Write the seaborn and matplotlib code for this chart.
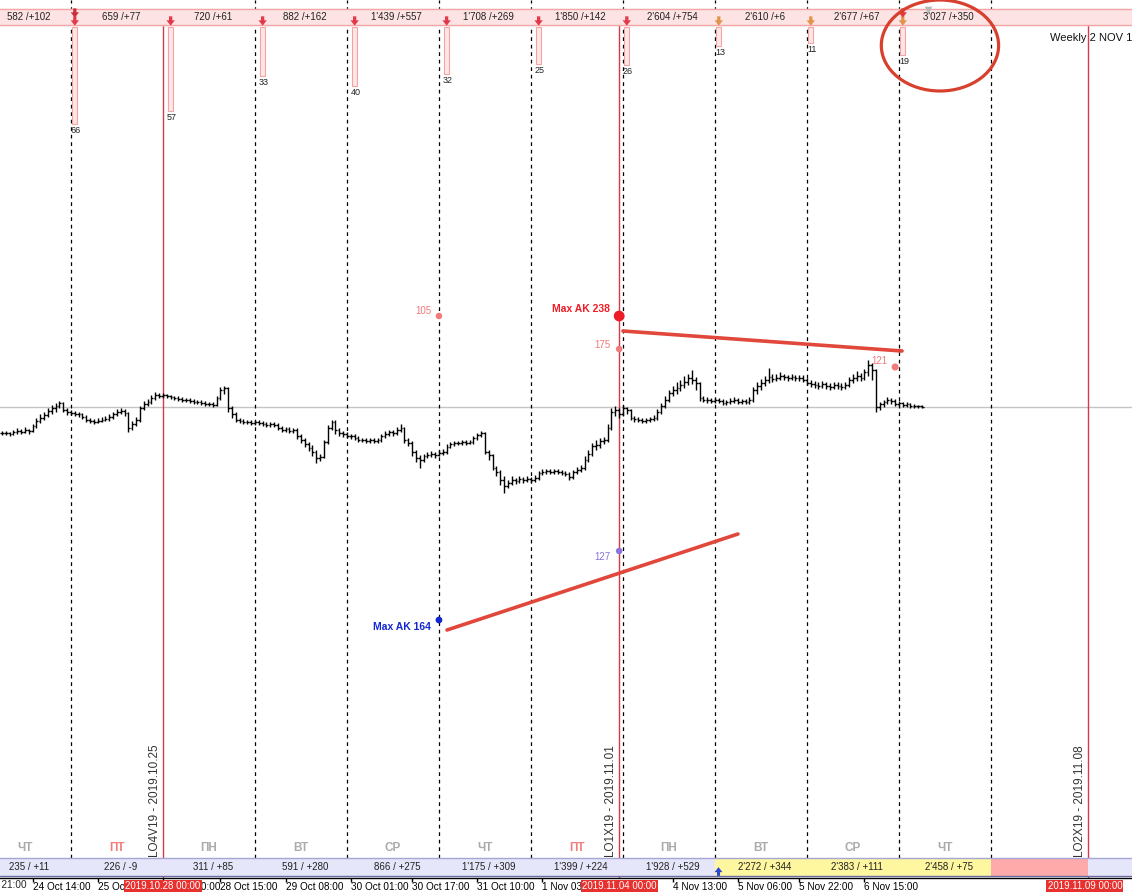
import numpy as np
import pandas as pd
import seaborn as sns
import matplotlib
matplotlib.use('Agg')
import matplotlib.pyplot as plt
from matplotlib.patches import Ellipse
from matplotlib.transforms import ScaledTranslation

# hourly bars; x = trading hours since Fri 25 Oct 00:00 (weekends skipped)
bar_start = -18
close = [67, 67, 66, 68, 69, 68, 70, 69,
         74, 79, 82, 85, 89, 92, 94, 97, 90, 88,
         87, 86, 86, 83, 80, 79, 78, 79, 80, 81,
         83, 86, 88, 89, 87, 72, 76, 80, 92, 96,
         98, 102, 105, 104, 105, 104, 103, 102, 101, 100,
         100, 99, 98, 98, 97, 96, 96, 95, 102, 110,
         112, 92, 86, 80, 79, 78, 78, 77, 78, 77,
         76, 75, 76, 75, 72, 70, 71, 69, 70, 64,
         60, 56, 52, 48, 42, 43, 58, 72, 78, 70,
         67, 66, 64, 64, 62, 60, 60, 59, 60, 59,
         60, 64, 66, 68, 67, 70, 72, 60, 57, 48,
         42, 40, 44, 45, 46, 45, 47, 48, 53, 56,
         57, 57, 58, 57, 58, 62, 65, 67, 48, 45,
         32, 28, 20, 14, 17, 20, 19, 21, 20, 21,
         20, 22, 27, 28, 29, 28, 29, 28, 27, 26,
         23, 28, 30, 32, 40, 46, 54, 55, 59, 60,
         72, 88, 90, 86, 92, 90, 82, 81, 80, 79,
         80, 81, 82, 88, 94, 100, 107, 110, 112, 115,
         118, 122, 120, 117, 102, 100, 100, 99, 100, 99,
         97, 98, 99, 100, 98, 99, 98, 100, 110, 114,
         117, 120, 123, 121, 122, 124, 123, 122, 123, 122,
         122, 120, 117, 116, 115, 114, 116, 114, 113, 115,
         114, 113, 115, 120, 122, 124, 122, 128, 135, 130,
         93, 96, 98, 100, 99, 96, 97, 95, 96, 94,
         94, 94, 93]
high = [69, 69, 68, 70, 72, 71, 73, 71,
        76, 82, 86, 88, 92, 95, 97, 99, 98, 92,
        90, 89, 88, 87, 85, 82, 81, 82, 83, 84,
        86, 88, 91, 92, 91, 88, 79, 83, 94, 99,
        101, 105, 108, 107, 107, 106, 105, 104, 104, 103,
        102, 102, 101, 100, 100, 99, 98, 98, 104, 113,
        114, 113, 94, 88, 82, 81, 80, 80, 80, 80,
        79, 78, 78, 78, 77, 74, 73, 73, 72, 72,
        66, 62, 58, 55, 50, 46, 60, 75, 80, 80,
        72, 69, 68, 66, 66, 64, 62, 62, 62, 62,
        62, 66, 69, 70, 70, 73, 76, 73, 62, 59,
        50, 45, 46, 48, 49, 48, 50, 51, 56, 58,
        59, 59, 60, 60, 60, 64, 67, 69, 68, 50,
        46, 34, 30, 24, 20, 24, 22, 24, 23, 24,
        23, 25, 29, 31, 31, 31, 31, 31, 30, 29,
        28, 30, 33, 35, 44, 50, 57, 60, 62, 63,
        76, 92, 94, 92, 95, 93, 91, 84, 83, 82,
        82, 83, 85, 91, 97, 104, 110, 114, 118, 120,
        124, 126, 130, 123, 118, 104, 103, 102, 102, 102,
        101, 100, 102, 103, 102, 101, 101, 103, 113, 118,
        121, 124, 132, 126, 126, 128, 126, 125, 126, 125,
        125, 125, 122, 120, 119, 118, 119, 118, 117, 118,
        118, 117, 118, 123, 126, 129, 127, 131, 140, 137,
        131, 98, 100, 103, 102, 101, 99, 98, 98, 97,
        96, 95, 95]
low = [65, 65, 64, 65, 66, 66, 67, 66,
       68, 72, 77, 80, 83, 86, 88, 92, 88, 85,
       85, 84, 83, 81, 78, 77, 76, 77, 78, 79,
       79, 81, 84, 86, 84, 68, 70, 74, 78, 90,
       94, 96, 100, 102, 102, 102, 101, 100, 99, 98,
       98, 97, 96, 96, 95, 94, 94, 93, 94, 100,
       106, 88, 82, 78, 77, 76, 76, 75, 75, 75,
       74, 73, 73, 73, 70, 68, 68, 67, 67, 61,
       57, 53, 49, 44, 37, 39, 42, 56, 70, 66,
       64, 63, 62, 61, 60, 58, 58, 57, 57, 57,
       57, 58, 62, 64, 64, 65, 68, 57, 54, 44,
       38, 32, 38, 42, 43, 42, 44, 45, 46, 52,
       54, 55, 55, 55, 56, 56, 60, 63, 46, 40,
       30, 24, 15, 7, 12, 15, 16, 17, 17, 18,
       17, 18, 20, 25, 26, 26, 26, 26, 25, 24,
       20, 21, 26, 28, 30, 38, 44, 50, 52, 56,
       58, 70, 84, 82, 84, 86, 80, 78, 78, 77,
       77, 78, 79, 80, 86, 92, 98, 104, 106, 109,
       112, 115, 116, 110, 99, 98, 97, 97, 97, 97,
       95, 95, 96, 97, 96, 96, 96, 96, 98, 106,
       110, 114, 117, 118, 119, 120, 120, 119, 120, 119,
       119, 118, 115, 113, 112, 111, 112, 111, 110, 111,
       111, 110, 111, 113, 117, 119, 119, 120, 124, 120,
       88, 90, 93, 96, 96, 94, 94, 93, 93, 92,
       92, 92, 92]

# daily columns
day_start = [-24, 0, 24, 48, 72, 96, 120, 144, 168, 192, 216]
weekdays = ['ЧТ', 'ПТ', 'ПН', 'ВТ', 'СР', 'ЧТ', 'ПТ', 'ПН', 'ВТ', 'СР', 'ЧТ']
top_stats = ['582 /+102', '659 /+77', '720 /+61', '882 /+162', "1'439 /+557", "1'708 /+269",
             "1'850 /+142", "2'604 /+754", "2'610 /+6", "2'677 /+67", "3'027 /+350"]
bottom_stats = ['235 / +11', '226 / -9', '311 / +85', '591 / +280', '866 / +275', "1'175 / +309",
                "1'399 / +224", "1'928 / +529", "2'272 / +344", "2'383 / +111", "2'458 / +75"]
day_lines = [0, 48, 72, 96, 120, 144, 168, 192, 216, 240]

# counters hanging from the top strip
count_hours = [1, 26, 50, 74, 98, 122, 145, 169, 193, 217]
counts = [66, 57, 33, 40, 32, 25, 26, 13, 11, 19]

# weekly expiries
week_hours = [24, 143, 265.3]
week_labels = ['LO4V19 - 2019.10.25', 'LO1X19 - 2019.11.01', 'LO2X19 - 2019.11.08']
week_dates = ['2019.10.28 00:00', '2019.11.04 00:00', '2019.11.09 00:00']

tick_hours = [-27, -10, 7, 24, 39, 56, 73, 89, 106, 123, 157, 174, 190, 207]
tick_labels = ['23 Oct 21:00', '24 Oct 14:00', '25 Oct 07:00', '28 Oct 00:00', '28 Oct 15:00',
               '29 Oct 08:00', '30 Oct 01:00', '30 Oct 17:00', '31 Oct 10:00', '1 Nov 03:00',
               '4 Nov 13:00', '5 Nov 06:00', '5 Nov 22:00', '6 Nov 15:00']

# AK levels
ak_hours = [96, 143, 143, 215, 143, 96]
ak_prices = [184, 184, 151, 133, -51, -120]
ak_labels = ['105', 'Max AK 238', '175', '121', '127', 'Max AK 164']
resist_hours = [144, 216.8]
resist_prices = [169, 149]
support_hours = [98.1, 174]
support_prices = [-130, -34]

sns.set_theme(style='white')
plt.rcParams['font.family'] = ['Liberation Sans', 'DejaVu Sans']

fig = plt.figure(figsize=(11.32, 8.96), dpi=100)
ax = fig.add_axes([0, 18 / 896, 1, 878 / 896])


def row(px):
    # price coordinate of a screen row of the panel
    return 500 - px


hours = np.arange(bar_start, bar_start + len(close))
opens = [close[0]] + close[:-1]
ax.vlines(hours, low, high, color='black', lw=1, zorder=3)
ax.hlines(opens, hours - 0.45, hours, color='black', lw=1, zorder=3)
ax.hlines(close, hours, hours + 0.45, color='black', lw=1, zorder=3)
ax.axhline(close[-1], color='#c4c4c4', lw=1, zorder=1)

for d in day_lines:
    ax.vlines(d, row(858), row(0), color='black', lw=0.9, linestyles=(0, (3, 3)), zorder=1)
for w in week_hours:
    ax.vlines(w, row(878), row(9), color='#d8384a', lw=1, zorder=2)

# top strip
ax.axhspan(row(25), row(9), color='#fde3e3', zorder=2)
ax.axhline(row(9), color='#f2a6a6', lw=1, zorder=2)
ax.axhline(row(25), color='#f2a6a6', lw=1, zorder=2)
for d, s in zip(day_start, top_stats):
    ax.text(d + 13, row(17), s, ha='center', va='center', fontsize=7, color='#222222', zorder=5)

arrow = [(-0.35, 1), (0.35, 1), (0.35, 0.15), (0.9, 0.15), (0, -1), (-0.9, 0.15), (-0.35, 0.15), (-0.35, 1)]
arrow_colors = ['#e23a4a'] * 7 + ['#e0954a'] * 3
ax.scatter(count_hours, [row(21)] * len(count_hours), marker=arrow, s=45, c=arrow_colors,
           linewidths=0, zorder=6)
ax.scatter([count_hours[0], count_hours[-1]], [row(13), row(13)], marker=arrow, s=45,
           c=['#c8303c', '#e23a3a'], linewidths=0, zorder=6)
ax.scatter([223.6], [row(10)], marker='v', s=30, c='#b8b8b8', linewidths=0, zorder=6)

axc = fig.add_axes([0, 1 - 174 / 896, 1, 147 / 896], sharex=ax)
axc.axis('off')
axc.patch.set_alpha(0)
axc.bar(count_hours, counts, width=1.25, color='#ffe6e6', edgecolor='#f4a4a4', lw=0.8)
for h, v in zip(count_hours, counts):
    axc.text(h + 0.3, v + 1.5, str(v), ha='center', va='top', fontsize=6.5, color='#222222')
axc.set_ylim(100, 0)

# weekday row and bottom strip
for d, wd in zip(day_start, weekdays):
    ax.text(d + 12, row(848), wd, ha='center', va='center', fontsize=8.5, fontweight='bold',
            color='#f07c7c' if wd == 'ПТ' else '#ababab', zorder=5)
band = [(-30, 168, '#e6e6fa'), (168, 240, '#fff7a0'), (240, 265.3, '#ffaaaa'), (265.3, 290, '#e6e6fa')]
for x0, x1, col in band:
    ax.fill_between([x0, x1], row(876), row(858), color=col, lw=0, zorder=2)
ax.axhline(row(858), color='#a6a6d6', lw=1, zorder=2)
ax.axhline(row(876), color='#6c6ca4', lw=1, zorder=2)
for d, s in zip(day_start, bottom_stats):
    ax.text(d + 13, row(867), s, ha='center', va='center', fontsize=7, color='#222222', zorder=5)
ax.scatter([168.8], [row(871)], marker=[(x, -y) for x, y in arrow], s=40, c='#2a4ad6',
           linewidths=0, zorder=6)

for w, lab in zip(week_hours, week_labels):
    ax.annotate(lab, xy=(w, row(857)), xytext=(-8, 0), textcoords='offset pixels', rotation=90,
                ha='center', va='bottom', fontsize=8.5, color='#333333', zorder=5)

# AK levels and trend lines
ak = pd.DataFrame({'hour': ak_hours, 'price': ak_prices, 'label': ak_labels})
ak_colors = {'105': '#f27a7a', 'Max AK 238': '#ee1c24', '175': '#f27a7a', '121': '#f27a7a',
             '127': '#8c74dc', 'Max AK 164': '#1428d2'}
ak_sizes = {'105': 22, 'Max AK 238': 60, '175': 22, '121': 26, '127': 22, 'Max AK 164': 24}
sns.scatterplot(data=ak, x='hour', y='price', hue='label', palette=ak_colors, size='label',
                sizes=ak_sizes, linewidth=0, legend=False, ax=ax, zorder=6)
ak_offsets = [(-8, 5), (-9, 7), (-9, 4), (-8, 6), (-9, -6), (-8, -7)]
for (h, p, lab), off in zip(zip(ak_hours, ak_prices, ak_labels), ak_offsets):
    bold = lab.startswith('Max')
    ax.annotate(lab, xy=(h, p), xytext=off, textcoords='offset pixels', ha='right', va='center',
                fontsize=7 if not bold else 7.5, fontweight='bold' if bold else 'normal',
                color=ak_colors[lab], zorder=6)

sns.lineplot(x=resist_hours, y=resist_prices, color='#e1473a', lw=2.6, sort=False, ax=ax, zorder=5)
sns.lineplot(x=support_hours, y=support_prices, color='#e1473a', lw=2.6, sort=False, ax=ax, zorder=5)

ax.add_patch(Ellipse((226.7, row(45.5)), width=30.6, height=91, fill=False, ec='#d8402e', lw=2.3,
                     zorder=7))
ax.text(255.4, row(38), 'Weekly 2 NOV 19', ha='left', va='center', fontsize=8, color='#111111',
        zorder=5)

# time axis
ax.set_yticks([])
ax.set_xticks(tick_hours, tick_labels)
nudge = ScaledTranslation(2 / 100, 0, fig.dpi_scale_trans)
for lab in ax.get_xticklabels():
    lab.set_horizontalalignment('left')
    lab.set_transform(lab.get_transform() + nudge)
ax.tick_params(axis='x', bottom=True, direction='out', length=3, width=1, pad=0, labelsize=7.2,
               colors='black')
ax.text(tick_hours[0] + 0.5, row(885), tick_labels[0], ha='left', va='center', fontsize=7.2)
for w, s in zip([24, 143, 264.5], week_dates):
    ax.text(w, row(886), s, ha='center', va='center', fontsize=7, color='white', zorder=10,
            bbox=dict(boxstyle='square,pad=0.12', fc='#e8302e', ec='none'))
sns.despine(ax=ax, left=True)
ax.spines['bottom'].set_color('black')
ax.spines['bottom'].set_linewidth(1)

# limits last: the shared counter axes would otherwise autoscale x
ax.set_xlim(-18.52, 276.8)
ax.set_ylim(-378, 500)

fig.savefig('out.png', dpi=100)
